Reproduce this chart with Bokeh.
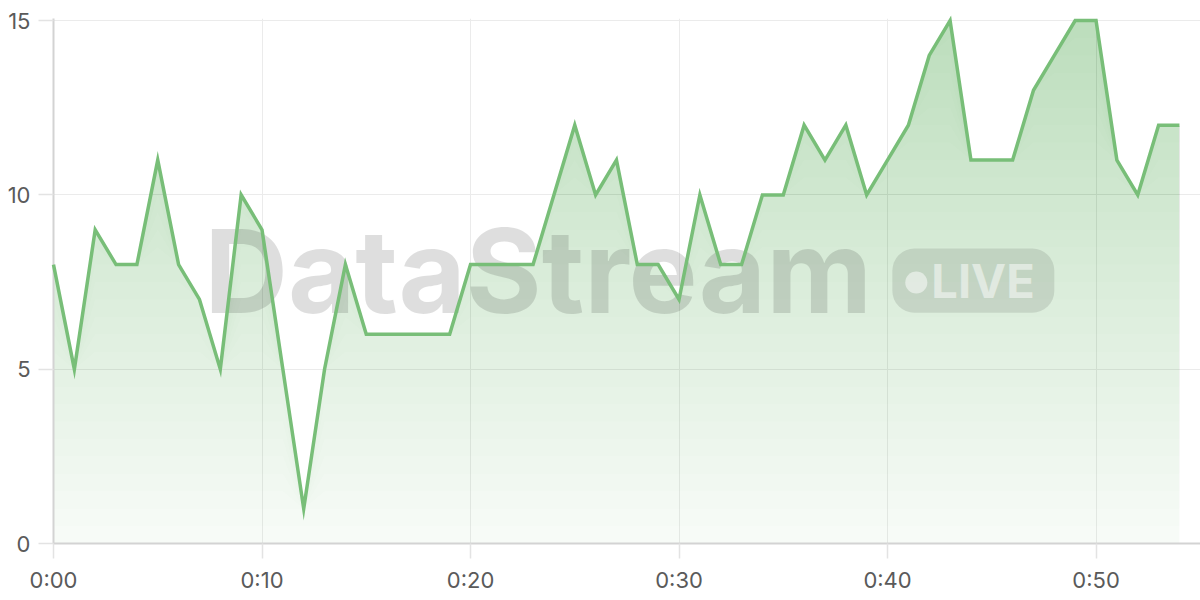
import numpy as np
from bokeh.plotting import figure
from bokeh.models import Range1d, FixedTicker, Label, BoxAnnotation
from bokeh.embed import file_html
from bokeh.resources import INLINE

# ---- data ----
minutes = list(range(55))
values = [8, 5, 9, 8, 8, 11, 8, 7, 5, 10,
          9, 5, 1, 5, 8, 6, 6, 6, 6, 6,
          8, 8, 8, 8, 10, 12, 10, 11, 8, 8,
          7, 10, 8, 8, 10, 10, 12, 11, 12, 10,
          11, 12, 14, 15, 11, 11, 11, 13, 14, 15,
          15, 11, 10, 12, 12]
x_ticks = [0, 10, 20, 30, 40, 50]
x_tick_labels = ["0:00", "0:10", "0:20", "0:30", "0:40", "0:50"]
y_ticks = [0, 5, 10, 15]

GREEN = "#78be78"
LABEL_COLOR = "#5a5a5a"

p = figure(width=1200, height=595, output_backend="svg", toolbar_location=None,
           x_range=Range1d(0, 55.01), y_range=Range1d(0, 15.06),
           min_border_left=53, min_border_right=0, min_border_top=18,
           min_border_bottom=30)
p.outline_line_color = None
p.background_fill_color = "white"
p.border_fill_color = "white"

# ---- grid & axes ----
p.xaxis.ticker = FixedTicker(ticks=x_ticks)
p.xaxis.major_label_overrides = dict(zip(x_ticks, x_tick_labels))
p.yaxis.ticker = FixedTicker(ticks=y_ticks)
for ax in (p.xaxis, p.yaxis):
    ax.axis_line_color = "#d3d3d3"
    ax.axis_line_width = 2
    ax.major_tick_line_color = "#e3e3e3"
    ax.major_tick_line_width = 1.5
    ax.major_tick_out = 15
    ax.major_tick_in = 0
    ax.minor_tick_line_color = None
    ax.major_label_text_font = "Inter"
    ax.major_label_text_font_size = "22px"
    ax.major_label_text_color = LABEL_COLOR
p.xaxis.major_label_standoff = 8
p.yaxis.major_label_standoff = 8
p.xgrid.grid_line_color = "#ebebeb"
p.ygrid.grid_line_color = "#ebebeb"
p.xgrid.grid_line_width = 1
p.ygrid.grid_line_width = 1

# ---- area with vertical gradient (stacked translucent layers) ----
x = np.array(minutes, dtype=float)
y = np.array(values, dtype=float)
p.varea(x=x, y1=np.zeros_like(y), y2=y, fill_color=GREEN, fill_alpha=0.06)
N = 30
for k in range(1, N + 1):
    b = 15.0 * k / N
    p.varea(x=x, y1=np.minimum(y, b), y2=y, fill_color=GREEN, fill_alpha=0.011)

# ---- watermark (above area, below line) ----
wm = Label(x=7.23, y=7.81, text="DataStream", text_font="Inter",
           text_font_style="bold", text_font_size="116px",
           text_color="black", text_alpha=0.13, text_baseline="alphabetic")
p.add_layout(wm)
badge = BoxAnnotation(left=40.23, right=48.0, bottom=6.62, top=8.46,
                      fill_color="black", fill_alpha=0.1, line_alpha=0,
                      border_radius=22)
p.add_layout(badge)
dot = BoxAnnotation(left=40.85, right=41.91, bottom=7.17, top=7.80,
                    fill_color="white", fill_alpha=0.5, line_alpha=0,
                    border_radius=11)
p.add_layout(dot)
live = Label(x=42.1, y=7.54, text="LIVE", text_font="Inter",
             text_font_style="bold", text_font_size="47px",
             text_color="white", text_alpha=0.5, text_baseline="alphabetic")
p.add_layout(live)

# ---- line ----
ln = p.line(x=x, y=y, line_color=GREEN, line_width=3.5, line_join="miter")
ln.level = "overlay"

open("out.html", "w").write(file_html(p, INLINE))
